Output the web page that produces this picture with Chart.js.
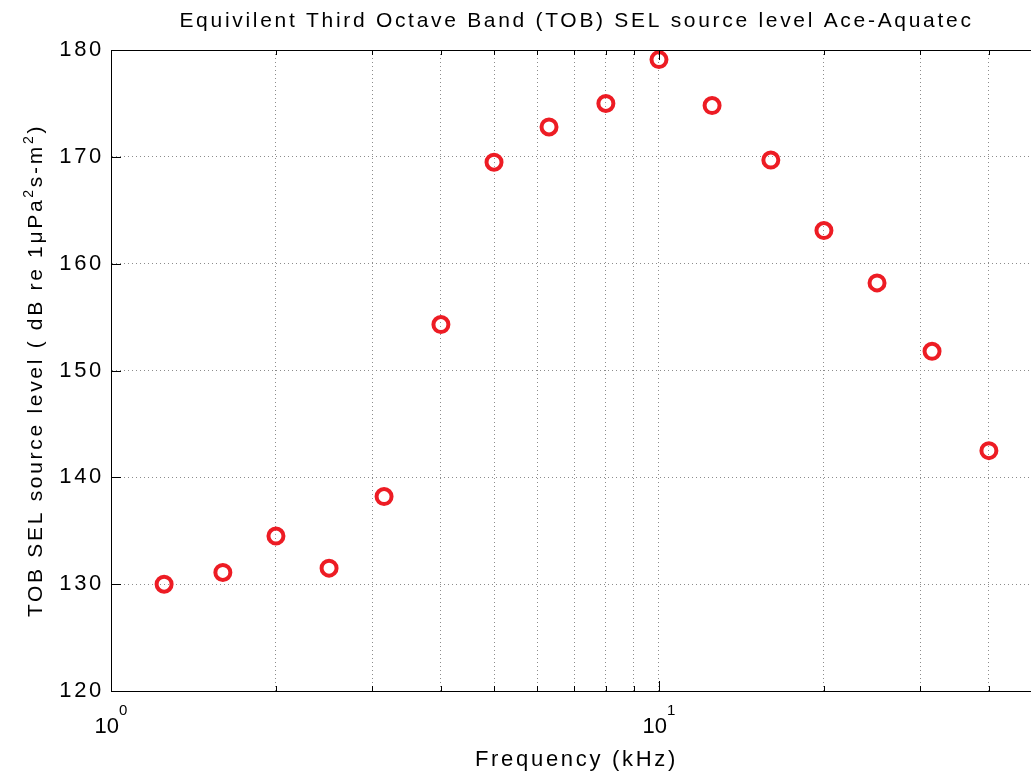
<!DOCTYPE html>
<html>
<head>
<meta charset="utf-8">
<script src="https://cdn.jsdelivr.net/npm/chart.js@4/dist/chart.umd.min.js"></script>
<style>
  html, body { margin: 0; padding: 0; background: #fff; overflow: hidden }
  #chart { position: absolute; left: 0; top: 0 }
</style>
</head>
<body>
<canvas id="chart" width="1045" height="776" style="width:1045px;height:776px"></canvas>
<script>
// third octave band centre frequencies (kHz) and SEL source levels
var FREQS   = [1.25, 1.6, 2, 2.5, 3.15, 4, 5, 6.3, 8, 10, 12.5, 16, 20, 25, 31.5, 40]
  , LEVELS  = [130.0, 131.1, 134.5, 131.5, 138.2, 154.3, 169.5, 172.8, 175.0, 179.1, 174.8, 169.7, 163.1, 158.2, 151.8, 142.5]
  , X_TICKS = [1, 2, 3, 4, 5, 6, 7, 8, 9, 10, 20, 30, 40, 50]
  , X_MAJOR = [1, 10]
  , Y_TICKS = [120, 130, 140, 150, 160, 170, 180]
  , Y_TITLE = [["TOB SEL source level ( dB re 1\u03bcPa", 0], ["2", 1], ["s-m", 0], ["2", 1], [")", 0]]

var FONT    = "'Liberation Sans', Arial, Helvetica, sans-serif"
  , RED     = "rgb(237,28,36)"
  , GRID    = "#8c8c8c"
  , SPACING = "2.7px"

// the reference text is set rather loose, so widen the canvas letter spacing
function spaceText(chart) { chart.ctx.letterSpacing = SPACING }

// MATLAB-ish axes: inward ticks, top border, 10^n labels, y label with superscripts
var axesPlugin =
  { id: "matlabAxes"
  , beforeUpdate: spaceText
  , beforeLayout: spaceText
  , beforeDraw: spaceText
  , afterDraw: function(chart) {
      var ctx  = chart.ctx
        , area = chart.chartArea
        , xs   = chart.scales.x
        , ys   = chart.scales.y
      ctx.save()
      ctx.strokeStyle = "#000"
      ctx.lineWidth = 1
      ctx.beginPath()
      ctx.moveTo(area.left, area.top + 0.5)
      ctx.lineTo(area.right, area.top + 0.5)
      X_TICKS.forEach(function(v) {
        var x   = Math.round(xs.getPixelForValue(v)) + 0.5
          , len = X_MAJOR.indexOf(v) >= 0 ? 10 : 5
        ctx.moveTo(x, area.bottom); ctx.lineTo(x, area.bottom - len)
        ctx.moveTo(x, area.top);    ctx.lineTo(x, area.top + len)
      })
      Y_TICKS.forEach(function(v) {
        var y = Math.round(ys.getPixelForValue(v)) + 0.5
        ctx.moveTo(area.left, y); ctx.lineTo(area.left + 10, y)
      })
      ctx.stroke()

      ctx.fillStyle = "#000"
      ctx.textBaseline = "alphabetic"
      ctx.textAlign = "left"

      // 10^n tick labels
      ctx.letterSpacing = "0px"
      X_MAJOR.forEach(function(v) {
        var exp = String(Math.round(Math.log10(v)))
          , x   = xs.getPixelForValue(v)
        ctx.font = "22px " + FONT
        var wb = ctx.measureText("10").width
        ctx.font = "15px " + FONT
        var we = ctx.measureText(exp).width
          , x0 = x - (wb + we) / 2
        ctx.font = "22px " + FONT
        ctx.fillText("10", x0, 733)
        ctx.font = "15px " + FONT
        ctx.fillText(exp, x0 + wb, 715)
      })

      // rotated y axis title
      ctx.letterSpacing = SPACING
      var total = 0
      Y_TITLE.forEach(function(p) {
        ctx.font = (p[1] ? "14px " : "21px ") + FONT
        total += ctx.measureText(p[0]).width
      })
      ctx.translate(42, (area.top + area.bottom) / 2)
      ctx.rotate(-Math.PI / 2)
      var pos = -total / 2
      Y_TITLE.forEach(function(p) {
        ctx.font = (p[1] ? "14px " : "21px ") + FONT
        ctx.fillText(p[0], pos, p[1] ? -9 : 0)
        pos += ctx.measureText(p[0]).width
      })
      ctx.restore()
    }
  }

new Chart(document.getElementById("chart"), {
  type: "scatter",
  data: {
    datasets: [{
      data: FREQS.map(function(f, i) { return {x: f, y: LEVELS[i]} }),
      showLine: false,
      pointStyle: "circle",
      pointRadius: 7.5,
      pointHoverRadius: 7.5,
      pointBorderWidth: 4,
      borderColor: RED,
      backgroundColor: "rgba(0,0,0,0)"
    }]
  },
  options: {
    responsive: false,
    animation: false,
    events: [],
    layout: { autoPadding: false, padding: { left: 0, right: 3, top: 0, bottom: 0 } },
    plugins: {
      legend: { display: false },
      tooltip: { enabled: false },
      title: {
        display: true,
        fullSize: false,
        text: "Equivilent Third Octave Band (TOB) SEL source level Ace-Aquatec",
        color: "#000",
        font: { family: FONT, size: 21, weight: "normal" },
        padding: { top: 8.4, bottom: 16.4 }
      }
    },
    scales: {
      x: {
        type: "logarithmic",
        min: 1,
        max: 50,
        afterBuildTicks: function(s) { s.ticks = X_TICKS.map(function(v) { return {value: v} }) },
        afterFit: function(s) { s.height = 85 },
        ticks: { display: false },
        grid: { color: GRID, lineWidth: 1, drawTicks: false },
        border: { display: true, color: "#000", width: 1, dash: [1, 3] },
        title: {
          display: true,
          text: "Frequency (kHz)",
          color: "#000",
          font: { family: FONT, size: 22 },
          padding: { top: 0, bottom: 3 }
        }
      },
      y: {
        min: 120,
        max: 180,
        afterBuildTicks: function(s) { s.ticks = Y_TICKS.map(function(v) { return {value: v} }) },
        afterFit: function(s) { s.width = 111 },
        ticks: { color: "#000", font: { family: FONT, size: 22 }, padding: 7 },
        grid: { color: GRID, lineWidth: 1, drawTicks: false },
        border: { display: true, color: "#000", width: 1, dash: [1, 3] },
        title: { display: false }
      }
    }
  },
  plugins: [axesPlugin]
})
</script>
</body>
</html>
